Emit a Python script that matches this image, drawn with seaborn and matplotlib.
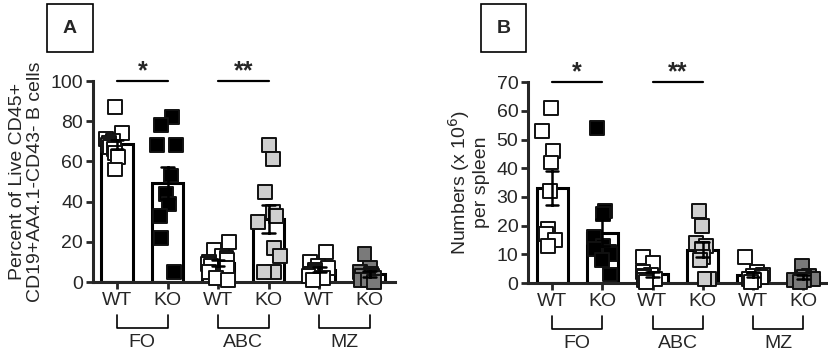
import numpy as np
import pandas as pd
import matplotlib.pyplot as plt
import seaborn as sns
from matplotlib.patches import Rectangle

# ---------------------------------
# Data
# ---------------------------------

groups = ["FO", "ABC", "MZ"]
genotypes = ["WT", "KO"]
keys = ["FO WT", "FO KO", "ABC WT", "ABC KO", "MZ WT", "MZ KO"]

# Panel A: percent of live CD45+ CD19+AA4.1-CD43- B cells
pct_fo_wt = [87, 74, 71, 70, 69, 68, 67, 66, 64, 62, 56]
pct_fo_ko = [82, 78, 68, 68, 53, 44, 39, 33, 22, 5]
pct_abc_wt = [20, 16, 13, 12, 11, 10, 9, 8, 7, 5, 2, 1]
pct_abc_ko = [68, 61, 45, 35, 33, 30, 17, 13, 5, 5]
pct_mz_wt = [15, 10, 8, 7, 6, 5, 4, 3, 2, 1]
pct_mz_ko = [14, 7, 5, 4, 3, 3, 2, 1, 1, 0]

# Panel B: numbers (x 10^6) per spleen
num_fo_wt = [61, 53, 46, 42, 32, 19, 17, 15, 13]
num_fo_ko = [54, 25, 24, 16, 13, 12, 11, 10, 8, 3]
num_abc_wt = [9, 7, 4, 3, 2.5, 2, 1.5, 1, 1, 0.5]
num_abc_ko = [25, 20, 14, 13, 12, 9, 8, 1.5, 1.5]
num_mz_wt = [9, 4, 3, 2.5, 2, 1.5, 1, 0.5]
num_mz_ko = [6, 2.5, 2, 1.5, 1, 1, 0.5]

point_colors = {
    "FO WT": "white", "FO KO": "black",
    "ABC WT": "white", "ABC KO": "#cfcfcf",
    "MZ WT": "white", "MZ KO": "#7a7a7a",
}


def long_form(series):
    rows = []
    for key, vals in zip(keys, series):
        for v in vals:
            rows.append({"key": key, "value": v})
    return pd.DataFrame(rows)


df_a = long_form([pct_fo_wt, pct_fo_ko, pct_abc_wt, pct_abc_ko, pct_mz_wt, pct_mz_ko])
df_b = long_form([num_fo_wt, num_fo_ko, num_abc_wt, num_abc_ko, num_mz_wt, num_mz_ko])

# ---------------------------------
# Style
# ---------------------------------

sns.set_style("ticks")
plt.rcParams["font.family"] = ["Liberation Sans", "DejaVu Sans"]
plt.rcParams["axes.linewidth"] = 2.2

fig = plt.figure(figsize=(8.29, 3.57), dpi=100)
ax_a = fig.add_axes([0.112, 0.21, 0.3645, 0.563])
ax_b = fig.add_axes([0.637, 0.207, 0.362, 0.563])


def draw_panel(ax, df, ymax, ystep, ylabel, letter, box_x, seed):
    sns.barplot(data=df, x="key", y="value", order=keys, errorbar=None,
                color="white", edgecolor="black", linewidth=2.2, width=0.62,
                ax=ax, zorder=1)
    np.random.seed(seed)
    sns.stripplot(data=df, x="key", y="value", order=keys, hue="key",
                  palette=point_colors, marker="s", size=10, jitter=0.22,
                  edgecolor="#111111", linewidth=1.4, legend=False, ax=ax,
                  zorder=3)
    sns.pointplot(data=df, x="key", y="value", order=keys, errorbar="se",
                  color="black", linestyle="none", marker="", capsize=0.25,
                  err_kws={"linewidth": 1.8}, ax=ax, zorder=4)
    for coll in ax.collections:
        coll.set_clip_on(False)

    ax.set_xlim(-0.48, 5.5)
    ax.set_ylim(0, ymax)
    ax.set_yticks(np.arange(0, ymax + 1, ystep))
    ax.set_xticks(range(6))
    ax.set_xticklabels(genotypes * 3, fontsize=14)
    ax.tick_params(axis="y", labelsize=14, width=2, length=5, pad=2)
    ax.tick_params(axis="x", width=2, length=5, pad=2)
    ax.set_xlabel("")
    ax.set_ylabel(ylabel, fontsize=14, labelpad=5, linespacing=1.05)
    sns.despine(ax=ax)

    # significance bars
    trans = ax.get_xaxis_transform()
    for (x0, x1), stars in [((0, 1), "*"), ((2, 3), "**")]:
        ax.plot([x0, x1], [ymax, ymax], color="black", lw=1.6, clip_on=False)
        ax.annotate(stars, xy=((x0 + x1) / 2, ymax), xytext=(0, -1.5),
                    textcoords="offset points", ha="center", va="bottom",
                    fontsize=18, fontweight="bold")

    # group brackets under tick labels
    for i, g in enumerate(groups):
        x0, x1 = 2 * i, 2 * i + 1
        ax.plot([x0, x0, x1, x1], [-0.165, -0.228, -0.228, -0.165],
                color="black", lw=1.2, transform=trans, clip_on=False)
        ax.text((x0 + x1) / 2, -0.30, g, transform=trans, ha="center",
                va="center", fontsize=14)

    # panel letter box
    fig.patches.append(Rectangle((box_x, 0.854), 0.055, 0.135,
                                 transform=fig.transFigure, fill=False,
                                 edgecolor="black", lw=1.2))
    fig.text(box_x + 0.0275, 0.921, letter, ha="center", va="center",
             fontsize=14, fontweight="bold")


draw_panel(ax_a, df_a, 100, 20,
           "Percent of Live CD45+\nCD19+AA4.1-CD43- B cells", "A", 0.0567, 1)
draw_panel(ax_b, df_b, 70, 10,
           "Numbers (x 10$^6$)\nper spleen", "B", 0.580, 2)

plt.savefig("out.png", dpi=100)
